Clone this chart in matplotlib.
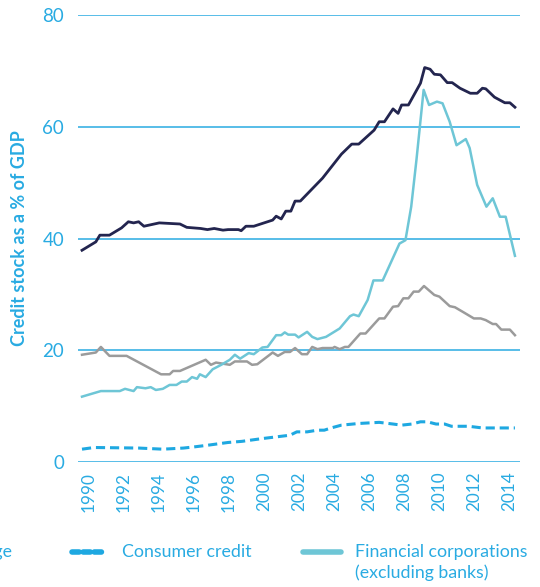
import matplotlib
matplotlib.use("Agg")
import matplotlib.pyplot as plt
from matplotlib.lines import Line2D

# UK credit stock as a % of GDP
mortgage_years = [1989.60, 1990.39, 1990.62, 1991.17, 1991.86, 1992.25, 1992.55, 1992.84,
                  1993.14, 1994.02, 1995.20, 1995.59, 1996.38, 1996.77, 1997.16, 1997.66,
                  1997.95, 1998.54, 1998.70, 1998.97, 1999.42, 2000.50, 2000.70, 2000.99,
                  2001.25, 2001.54, 2001.78, 2002.08, 2003.35, 2004.43, 2005.02, 2005.42,
                  2006.30, 2006.59, 2006.89, 2007.38, 2007.67, 2007.87, 2008.26, 2008.95,
                  2009.19, 2009.50, 2009.74, 2010.09, 2010.48, 2010.76, 2011.21, 2011.80,
                  2012.19, 2012.49, 2012.68, 2013.18, 2013.77, 2014.06, 2014.35]
mortgage = [37.9, 39.4, 40.6, 40.6, 41.9, 43.0, 42.8, 43.0,
            42.2, 42.8, 42.6, 42.0, 41.8, 41.6, 41.8, 41.5,
            41.6, 41.6, 41.4, 42.2, 42.2, 43.3, 44.0, 43.5,
            44.9, 44.9, 46.7, 46.7, 50.8, 55.1, 56.9, 56.9,
            59.4, 60.9, 60.9, 63.2, 62.4, 63.9, 63.9, 67.8,
            70.6, 70.3, 69.4, 69.3, 67.9, 67.9, 66.9, 66.0,
            66.0, 66.9, 66.8, 65.3, 64.3, 64.3, 63.5]

nonfin_years = [1989.60, 1990.39, 1990.68, 1991.17, 1992.15, 1994.12, 1994.61, 1994.81,
                1995.20, 1996.67, 1996.97, 1997.26, 1998.05, 1998.34, 1999.03, 1999.32,
                1999.62, 2000.50, 2000.80, 2001.19, 2001.49, 2001.78, 2002.17, 2002.47,
                2002.76, 2003.06, 2003.35, 2003.94, 2004.04, 2004.33, 2004.63, 2004.83,
                2005.51, 2005.81, 2006.59, 2006.89, 2007.38, 2007.67, 2007.97, 2008.26,
                2008.56, 2008.85, 2009.15, 2009.74, 2010.03, 2010.62, 2010.92, 2011.41,
                2012.00, 2012.39, 2012.68, 2013.08, 2013.27, 2013.57, 2014.06, 2014.35]
nonfin = [19.2, 19.6, 20.6, 19.0, 19.0, 15.7, 15.7, 16.3,
          16.3, 18.3, 17.4, 17.8, 17.4, 18.0, 18.0, 17.4,
          17.5, 19.6, 19.0, 19.7, 19.7, 20.4, 19.3, 19.3,
          20.6, 20.2, 20.4, 20.4, 20.6, 20.2, 20.6, 20.6,
          23.0, 23.0, 25.7, 25.7, 27.8, 27.9, 29.3, 29.3,
          30.5, 30.5, 31.5, 29.9, 29.6, 27.9, 27.7, 26.8,
          25.7, 25.7, 25.4, 24.7, 24.7, 23.7, 23.7, 22.7]

fincorp_years = [1989.60, 1990.68, 1991.76, 1992.06, 1992.55, 1992.74, 1993.23, 1993.53,
                 1993.82, 1994.22, 1994.61, 1995.00, 1995.30, 1995.59, 1995.89, 1996.18,
                 1996.34, 1996.67, 1997.07, 1997.56, 1998.05, 1998.34, 1998.64, 1999.13,
                 1999.42, 1999.91, 2000.21, 2000.70, 2000.99, 2001.19, 2001.39, 2001.78,
                 2001.98, 2002.47, 2002.76, 2003.06, 2003.55, 2004.33, 2004.92, 2005.12,
                 2005.42, 2005.93, 2006.26, 2006.79, 2007.75, 2008.09, 2008.42, 2008.72,
                 2009.13, 2009.44, 2009.89, 2010.21, 2010.62, 2011.01, 2011.54, 2011.76,
                 2012.19, 2012.72, 2013.08, 2013.49, 2013.82, 2014.35]
fincorp = [11.7, 12.7, 12.7, 13.1, 12.7, 13.4, 13.2, 13.4,
           12.9, 13.1, 13.8, 13.8, 14.4, 14.4, 15.2, 14.9,
           15.7, 15.2, 16.6, 17.4, 18.3, 19.2, 18.5, 19.5,
           19.3, 20.5, 20.6, 22.7, 22.7, 23.2, 22.8, 22.8,
           22.3, 23.3, 22.4, 22.0, 22.4, 23.9, 26.1, 26.4,
           26.1, 29.0, 32.5, 32.5, 39.1, 39.7, 45.7, 54.1,
           66.6, 63.9, 64.5, 64.2, 60.9, 56.7, 57.8, 56.2,
           49.6, 45.7, 47.2, 43.9, 43.9, 36.9]

consumer_years = [1989.60, 1990.29, 1992.84, 1994.22, 1995.40, 1995.99, 1996.77, 1997.95,
                  1998.74, 1999.91, 2000.70, 2001.49, 2001.88, 2002.47, 2003.06, 2003.45,
                  2003.84, 2004.43, 2005.42, 2006.59, 2007.38, 2007.87, 2008.46, 2008.95,
                  2009.34, 2009.84, 2010.33, 2010.72, 2011.70, 2012.49, 2014.35]
consumer = [2.3, 2.6, 2.5, 2.3, 2.5, 2.7, 3.0, 3.5,
            3.7, 4.2, 4.5, 4.8, 5.4, 5.4, 5.7, 5.7,
            6.1, 6.6, 6.9, 7.1, 6.8, 6.6, 6.8, 7.2,
            7.2, 6.8, 6.8, 6.4, 6.4, 6.1, 6.1]

year_ticks = list(range(1990, 2015, 2))
y_ticks = [0, 20, 40, 60, 80]

# colours
NAVY = '#23254f'
GREY = '#9b9b9b'
CYAN = '#6ec6d6'
BLUE = '#1ea8e1'
TEXT = '#29abe2'

plt.rcParams['font.family'] = ['Lato', 'DejaVu Sans']

fig = plt.figure(figsize=(5.4, 5.87), dpi=100)
ax = fig.add_axes([0.1444, 0.2129, 0.8186, 0.7615])

for y in y_ticks:
    ax.axhline(y, color=TEXT, linewidth=1.1, zorder=1)

ax.plot(mortgage_years, mortgage, color=NAVY, linewidth=2.0, zorder=3)
ax.plot(nonfin_years, nonfin, color=GREY, linewidth=1.8, zorder=3)
ax.plot(fincorp_years, fincorp, color=CYAN, linewidth=1.8, zorder=3)
ax.plot(consumer_years, consumer, color=BLUE, linewidth=2.2, dashes=(3, 1.6), zorder=3)

ax.set_xlim(1989.37, 2014.64)
ax.set_ylim(0, 80)
ax.set_xticks(year_ticks)
ax.set_xticklabels([str(y) for y in year_ticks], rotation=90)
ax.set_yticks(y_ticks)
ax.tick_params(axis='both', length=0, colors=TEXT, labelsize=13.5)
ax.tick_params(axis='y', pad=10)
ax.tick_params(axis='x', pad=7, labelsize=12.3)
for s in ax.spines.values():
    s.set_visible(False)

fig.text(0.037, 0.595, 'Credit stock as a % of GDP', rotation=90, color=TEXT,
         fontsize=13, fontweight='bold', ha='center', va='center')

# legend drawn by hand (left entry is cut off by the image edge, as in the source)
ly = 1 - 552 / 587
fig.text(12 / 540, ly, 'Mortgage', color=TEXT, fontsize=12.8, ha='right', va='center')
fig.add_artist(Line2D([72 / 540, 104 / 540], [ly, ly], transform=fig.transFigure,
                      color=BLUE, linewidth=4, dashes=(1.3, 0.7), dash_capstyle='round'))
fig.text(122 / 540, ly, 'Consumer credit', color=TEXT, fontsize=12.8, ha='left', va='center')
fig.add_artist(Line2D([303 / 540, 341 / 540], [ly, ly], transform=fig.transFigure,
                      color=CYAN, linewidth=4, solid_capstyle='round'))
fig.text(355 / 540, ly, 'Financial corporations', color=TEXT, fontsize=12.8, ha='left', va='center')
fig.text(355 / 540, 1 - 573 / 587, '(excluding banks)', color=TEXT, fontsize=12.8,
         ha='left', va='center')

fig.savefig('out.png', dpi=100)
